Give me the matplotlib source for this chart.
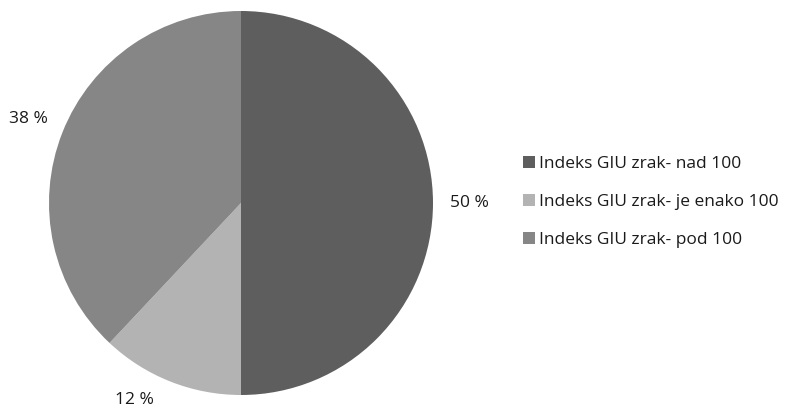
import numpy as np
import matplotlib.pyplot as plt
from matplotlib.patches import Patch

# Deleži indeksa GIU (zrak)
kategorije = ['Indeks GIU zrak- nad 100', 'Indeks GIU zrak- je enako 100', 'Indeks GIU zrak- pod 100']
vrednosti = [50, 12, 38]
barve = ['#5e5e5e', '#b3b3b3', '#868686']

plt.rcParams['font.family'] = ['Open Sans', 'DejaVu Sans']

fig = plt.figure(figsize=(7.93, 4.11), dpi=100)
W, H = 793, 411
cx, cy, r = 241, 208, 192
ax = fig.add_axes([(cx - r) / W, (cy - r) / H, 2 * r / W, 2 * r / H])

klini, _, odstotki = ax.pie(vrednosti, colors=barve, startangle=90, counterclock=False,
                            autopct=lambda p: f'{p:.0f} %', pctdistance=1.19,
                            wedgeprops=dict(linewidth=0),
                            textprops=dict(fontsize=12.5, color='#1a1a1a'))

# oznako za 12 % nekoliko zamaknemo, da ne pade izven slike
kot = np.deg2rad(-118.5)
odstotki[1].set_position((1.165 * np.cos(kot), 1.165 * np.sin(kot)))

ax.set_xlim(-1, 1)
ax.set_ylim(-1, 1)
ax.set_aspect('equal')

rocice = [Patch(facecolor=b, edgecolor='none') for b in barve]
fig.legend(rocice, kategorije, loc='center left', bbox_to_anchor=(507 / W, 1 - 202 / H),
           frameon=False, fontsize=12.5, handlelength=0.7, handleheight=0.7,
           handletextpad=0.25, labelspacing=1.28, labelcolor='#1a1a1a')

fig.savefig('out.png', dpi=100)
